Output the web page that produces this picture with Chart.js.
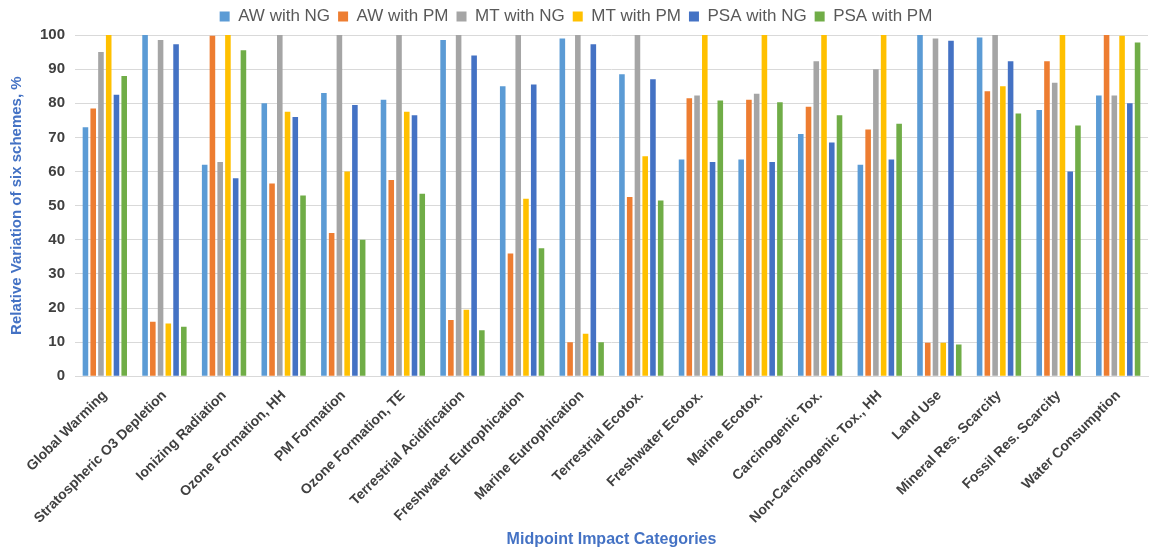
<!DOCTYPE html>
<html>
<head>
<meta charset="utf-8">
<script src="https://cdn.jsdelivr.net/npm/chart.js@4"></script>
<style>
  body { margin: 0; background: #fff; }
  #wrap { width: 1150px; height: 551px; }
</style>
</head>
<body>
<div id="wrap"><canvas id="chart"></canvas></div>
<script>
// Categories and series values
const categories = ['Global Warming', 'Stratospheric O3 Depletion', 'Ionizing Radiation', 'Ozone Formation, HH',
    'PM Formation', 'Ozone Formation, TE', 'Terrestrial Acidification', 'Freshwater Eutrophication',
    'Marine Eutrophication', 'Terrestrial Ecotox.', 'Freshwater Ecotox.', 'Marine Ecotox.',
    'Carcinogenic Tox.', 'Non-Carcinogenic Tox., HH', 'Land Use', 'Mineral Res. Scarcity',
    'Fossil Res. Scarcity', 'Water Consumption'];
const awNG  = [73, 100, 62, 80, 83, 81, 98.5, 85, 99, 88.5, 63.5, 63.5, 71, 62, 100, 99.3, 78, 82.3];
const awPM  = [78.5, 16, 99.8, 56.5, 42, 57.5, 16.5, 36, 10, 52.5, 81.5, 81, 79, 72.3, 9.8, 83.5, 92.3, 100];
const mtNG  = [95, 98.5, 62.8, 100, 100, 100, 100, 100, 100, 100, 82.3, 82.8, 92.3, 90, 99, 100, 86, 82.3];
const mtPM  = [100, 15.5, 100, 77.5, 60, 77.5, 19.5, 52, 12.5, 64.5, 100, 100, 100, 100, 9.8, 85, 100, 99.8];
const psaNG = [82.5, 97.3, 58, 76, 79.5, 76.5, 94, 85.5, 97.3, 87, 62.8, 62.8, 68.5, 63.5, 98.3, 92.3, 60, 80];
const psaPM = [88, 14.5, 95.5, 53, 40, 53.5, 13.5, 37.5, 10, 51.5, 80.8, 80.3, 76.5, 74, 9.3, 77, 73.5, 97.8];

const series = [
    ['AW with NG', awNG, '#5B9BD5'],
    ['AW with PM', awPM, '#ED7D31'],
    ['MT with NG', mtNG, '#A5A5A5'],
    ['MT with PM', mtPM, '#FFC000'],
    ['PSA with NG', psaNG, '#4472C4'],
    ['PSA with PM', psaPM, '#70AD47']
];

const blue = '#4472C4';

new Chart(document.getElementById('chart'), {
    type: 'bar',
    data: {
        labels: categories,
        datasets: series.map(s => ({
            label: s[0],
            data: s[1],
            backgroundColor: s[2],
            categoryPercentage: 0.78,
            barPercentage: 0.72
        }))
    },
    options: {
        responsive: true,
        maintainAspectRatio: false,
        animation: false,
        layout: { padding: { left: 4, right: 2, top: 0, bottom: 2 } },
        plugins: {
            legend: {
                position: 'top',
                labels: {
                    boxWidth: 10, boxHeight: 10, padding: 8,
                    color: '#595959',
                    font: { family: 'Liberation Sans', size: 17 }
                }
            },
            tooltip: { enabled: false }
        },
        scales: {
            x: {
                grid: { display: false },
                border: { color: '#d9d9d9' },
                ticks: {
                    color: '#404040', maxRotation: 45, minRotation: 45, autoSkip: false,
                    font: { family: 'Liberation Sans', size: 14, weight: 'bold' }
                },
                title: {
                    display: true, text: 'Midpoint Impact Categories', color: blue,
                    padding: { top: 0, bottom: 0 },
                    font: { family: 'Liberation Sans', size: 16, weight: 'bold' }
                }
            },
            y: {
                min: 0, max: 100,
                ticks: {
                    stepSize: 10, color: '#404040', padding: 10,
                    font: { family: 'Liberation Sans', size: 15, weight: 'bold' }
                },
                grid: { color: '#d9d9d9', drawTicks: false },
                border: { display: false },
                title: {
                    display: true, text: 'Relative Variation of six schemes, %', color: blue,
                    font: { family: 'Liberation Sans', size: 15, weight: 'bold' }
                }
            }
        }
    }
});
</script>
</body>
</html>
